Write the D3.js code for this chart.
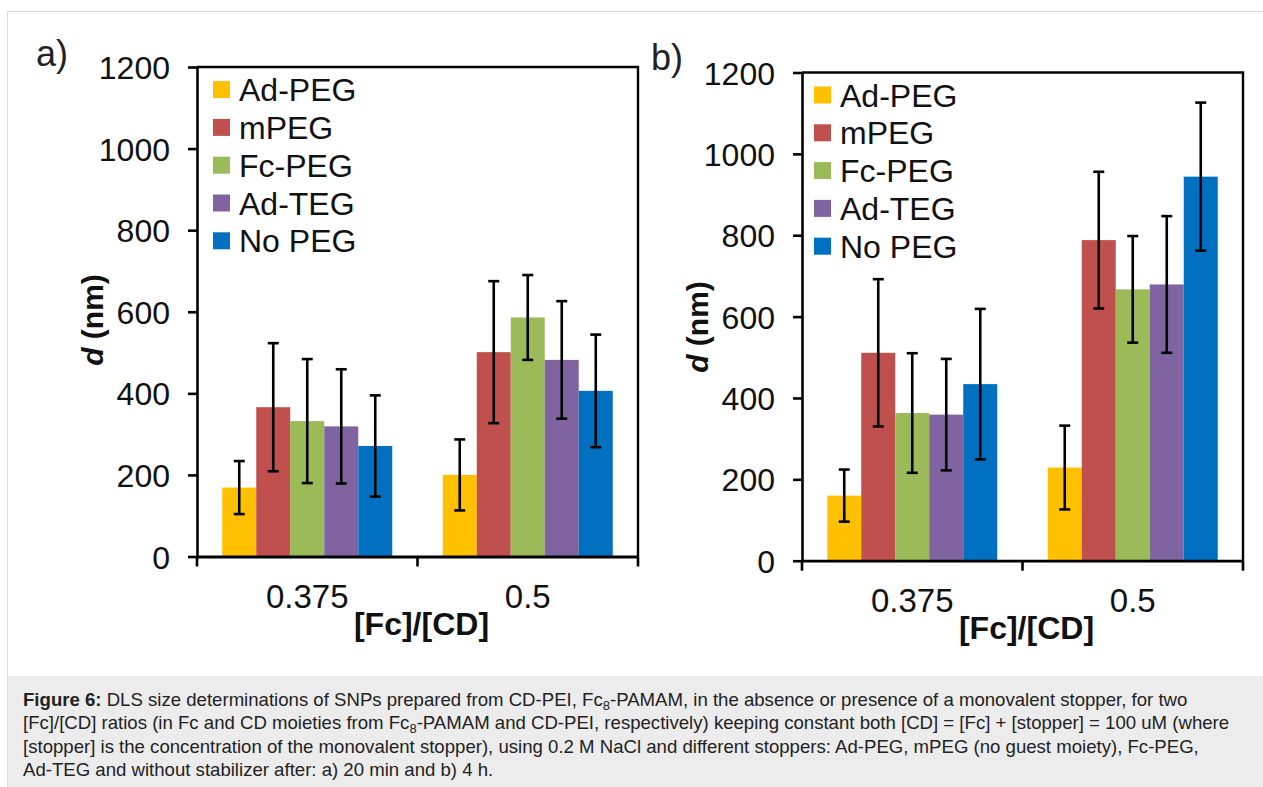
<!DOCTYPE html>
<html><head><meta charset="utf-8">
<script src="https://cdn.jsdelivr.net/npm/d3@7"></script>
<style>
body{margin:0;background:#fff;}
svg{display:block;font-family:"Liberation Sans",Arial,Helvetica,sans-serif;}
</style>
</head><body>
<svg id="c" width="1263" height="787"></svg>
<script>
// ---------- data ----------
const categories = ["0.375", "0.5"];
const series = ["Ad-PEG", "mPEG", "Fc-PEG", "Ad-TEG", "No PEG"];
const colors = ["#FFC000", "#C0504D", "#9BBB59", "#8064A2", "#0070C0"];
const yTicks = [0, 200, 400, 600, 800, 1000, 1200];

// panel a) 20 min : one array per series, values for [0.375, 0.5]
const adPegA = [169, 200],  adPegAErr = [65, 87];
const mPegA  = [366, 501],  mPegAErr  = [157, 174];
const fcPegA = [332, 586],  fcPegAErr = [152, 104];
const adTegA = [319, 482],  adTegAErr = [140, 144];
const noPegA = [271, 406],  noPegAErr = [124, 138];

// panel b) 4 h
const adPegB = [160, 229],  adPegBErr = [64, 103];
const mPegB  = [511, 788],  mPegBErr  = [181, 168];
const fcPegB = [363, 667],  fcPegBErr = [147, 131];
const adTegB = [359, 679],  adTegBErr = [137, 168];
const noPegB = [434, 944],  noPegBErr = [185, 182];

const xTitle = "[Fc]/[CD]";

// ---------- drawing ----------
const svg = d3.select("#c");

// figure frame + caption box
svg.append("rect").attr("x", 7.5).attr("y", 11.5).attr("width", 1270).attr("height", 800)
  .attr("fill", "#fff").attr("stroke", "#dcdcdc").attr("stroke-width", 1);
svg.append("rect").attr("x", 8).attr("y", 676).attr("width", 1260).attr("height", 120)
  .attr("fill", "#ececec");

function buildRows(vals, errs) {
  return categories.map((c, ci) => ({
    cat: c,
    items: series.map((s, si) => ({ s, si, v: vals[si][ci], e: errs[si][ci] }))
  }));
}

function drawPanel(cfg, vals, errs) {
  const g = svg.append("g");
  const x = d3.scaleBand().domain(categories).range([cfg.left, cfg.right]).padding(0);
  const bw = x.bandwidth();
  const gw = bw * 0.771;
  const xs = d3.scaleBand().domain(series).range([(bw - gw) / 2, (bw + gw) / 2]).padding(0);
  const y = d3.scaleLinear().domain([0, 1200]).range([cfg.bottom, cfg.top]);
  const rows = buildRows(vals, errs);

  // bars
  const grp = g.selectAll("g.cat").data(rows).join("g")
    .attr("transform", d => `translate(${x(d.cat)},0)`);
  grp.selectAll("rect").data(d => d.items).join("rect")
    .attr("x", d => xs(d.s)).attr("width", xs.bandwidth())
    .attr("y", d => y(d.v)).attr("height", d => y(0) - y(d.v))
    .attr("fill", d => colors[d.si]);

  // error bars
  const eb = grp.selectAll("g.eb").data(d => d.items).join("g")
    .attr("transform", d => `translate(${xs(d.s) + xs.bandwidth() / 2},0)`);
  eb.append("line").attr("x1", 0).attr("x2", 0)
    .attr("y1", d => y(d.v + d.e)).attr("y2", d => y(d.v - d.e))
    .attr("stroke", "#000").attr("stroke-width", 2.6);
  [1, -1].forEach(sg => {
    eb.append("line").attr("x1", -5.5).attr("x2", 5.5)
      .attr("y1", d => y(d.v + sg * d.e)).attr("y2", d => y(d.v + sg * d.e))
      .attr("stroke", "#000").attr("stroke-width", 2.6);
  });

  // plot frame (top & right)
  g.append("path")
    .attr("d", `M${cfg.left},${y(1200)}H${cfg.right}V${y(0)}`)
    .attr("fill", "none").attr("stroke", "#000").attr("stroke-width", 2.4);

  // y axis
  const ya = g.append("g").attr("transform", `translate(${cfg.left},0)`)
    .call(d3.axisLeft(y).tickValues(yTicks).tickFormat(d3.format("d"))
      .tickSize(9).tickSizeOuter(0).tickPadding(18));
  ya.select(".domain").attr("stroke-width", 2.6);
  ya.selectAll(".tick line").attr("stroke-width", 2.6);
  ya.selectAll("text").attr("font-size", 32).attr("fill", "#111")
    .attr("font-family", "Liberation Sans, Arial, sans-serif").attr("dy", "0.36em");

  // x axis: line + boundary ticks + labels at band centers
  const xa = g.append("g").attr("transform", `translate(0,${y(0)})`)
    .call(d3.axisBottom(x).tickSize(0).tickSizeOuter(0).tickPadding(28));
  xa.select(".domain").attr("stroke-width", 2.8);
  xa.selectAll("text").attr("font-size", 33).attr("fill", "#111")
    .attr("font-family", "Liberation Sans, Arial, sans-serif");
  const bounds = categories.map(c => x(c)).concat([x.range()[1]]);
  xa.selectAll("line.bt").data(bounds).join("line").attr("class", "bt")
    .attr("x1", d => d).attr("x2", d => d).attr("y1", 0).attr("y2", 10)
    .attr("stroke", "#000").attr("stroke-width", 2.6);

  // axis titles
  g.append("text").attr("x", (cfg.left + cfg.right) / 2 + 4).attr("y", cfg.xTitleY)
    .attr("text-anchor", "middle").attr("font-size", 32).attr("font-weight", "bold")
    .attr("fill", "#111").text(xTitle);
  const yt = g.append("text")
    .attr("transform", `translate(${cfg.yTitleX},${cfg.yTitleY}) rotate(-90)`)
    .attr("text-anchor", "middle").attr("font-size", 30).attr("font-weight", "bold").attr("fill", "#111");
  yt.append("tspan").attr("font-style", "italic").text("d");
  yt.append("tspan").text(" (nm)");

  // panel label
  g.append("text").attr("x", cfg.labelX).attr("y", cfg.labelY)
    .attr("font-size", 36).attr("fill", "#222").text(cfg.label);

  // legend
  const lg = g.append("g").attr("transform", `translate(${cfg.legX},${cfg.legY})`);
  const li = lg.selectAll("g").data(series).join("g")
    .attr("transform", (d, i) => `translate(0,${i * 37.8})`);
  li.append("rect").attr("x", 0).attr("y", -8.5).attr("width", 17).attr("height", 17)
    .attr("fill", (d, i) => colors[i]);
  li.append("text").attr("x", 26).attr("y", 0).attr("dy", "0.36em")
    .attr("font-size", 32).attr("fill", "#111").text(d => d);
}

drawPanel({ label: "a)", labelX: 36, labelY: 66, left: 197, right: 638, top: 67, bottom: 556.5,
  xTitleY: 635, yTitleX: 103, yTitleY: 320, legX: 213, legY: 89.6 },
  [adPegA, mPegA, fcPegA, adTegA, noPegA], [adPegAErr, mPegAErr, fcPegAErr, adTegAErr, noPegAErr]);

drawPanel({ label: "b)", labelX: 651, labelY: 70, left: 802, right: 1243, top: 72.5, bottom: 560.7,
  xTitleY: 639, yTitleX: 708, yTitleY: 327, legX: 814, legY: 95 },
  [adPegB, mPegB, fcPegB, adTegB, noPegB], [adPegBErr, mPegBErr, fcPegBErr, adTegBErr, noPegBErr]);

// caption
const cap = svg.append("g").attr("font-size", 18.6).attr("fill", "#222");
const capLines = [
  [["b", "Figure 6:"], ["", " DLS size determinations of SNPs prepared from CD-PEI, Fc"], ["sub", "8"], ["r", "-PAMAM, in the absence or presence of a monovalent stopper, for two"]],
  [["", "[Fc]/[CD] ratios (in Fc and CD moieties from Fc"], ["sub", "8"], ["r", "-PAMAM and CD-PEI, respectively) keeping constant both [CD] = [Fc] + [stopper] = 100 uM (where"]],
  [["", "[stopper] is the concentration of the monovalent stopper), using 0.2 M NaCl and different stoppers: Ad-PEG, mPEG (no guest moiety), Fc-PEG,"]],
  [["", "Ad-TEG and without stabilizer after: a) 20 min and b) 4 h."]]
];
const capY = [706, 729.2, 752.5, 775.8];
capLines.forEach((parts, i) => {
  const t = cap.append("text").attr("x", 23).attr("y", capY[i]);
  parts.forEach(([k, s]) => {
    const sp = t.append("tspan").text(s);
    if (k === "b") sp.attr("font-weight", "bold");
    if (k === "sub") sp.attr("font-size", 13).attr("dy", 4);
    if (k === "r") sp.attr("dy", -4);
  });
});
</script>
</body></html>
